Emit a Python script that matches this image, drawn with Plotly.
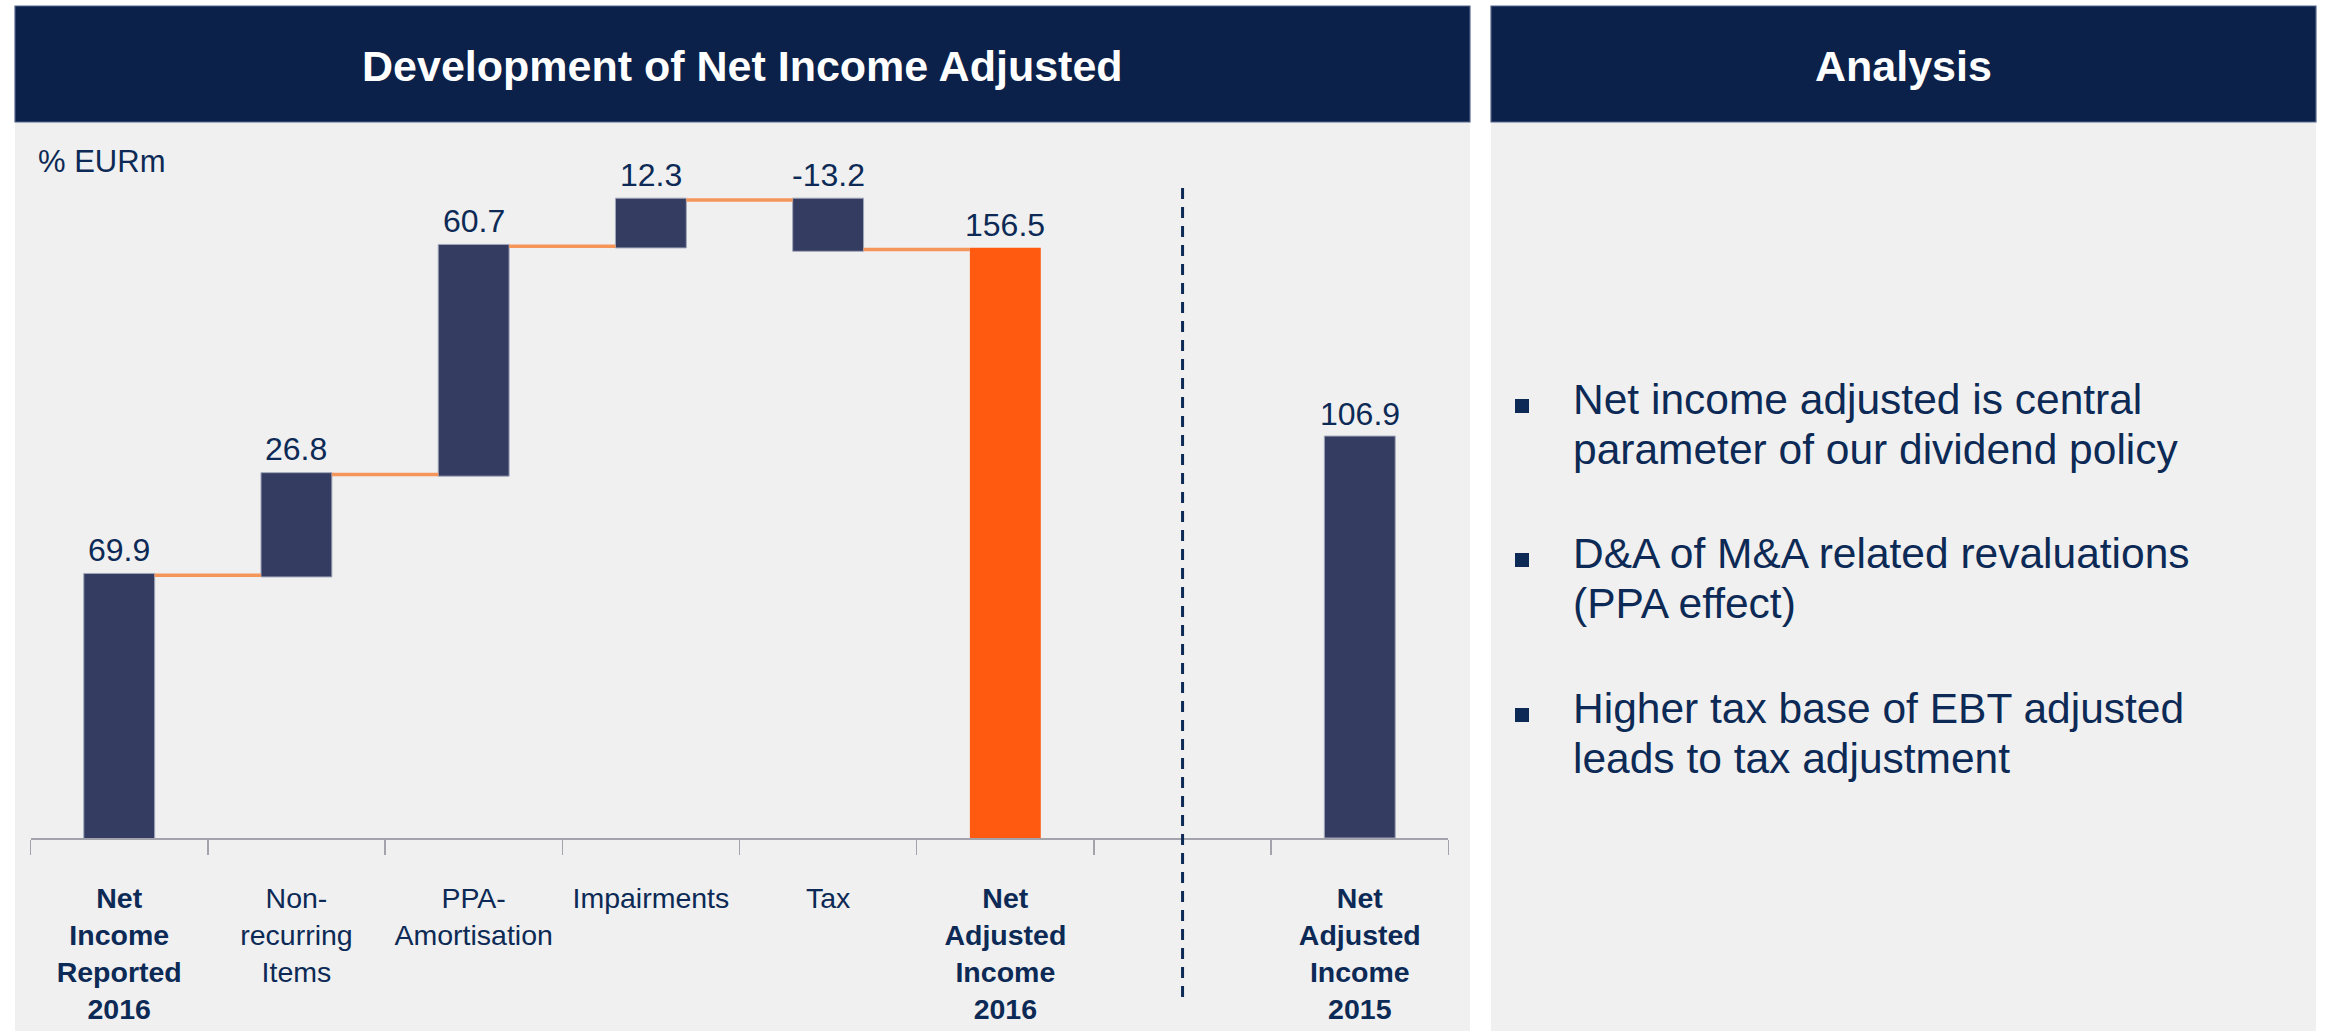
import numpy as np
import plotly.graph_objects as go

# ---------------- data ----------------
CATEGORIES = [
    "<b>Net</b><br><b>Income</b><br><b>Reported</b><br><b>2016</b>",
    "Non-<br>recurring<br>Items",
    "PPA-<br>Amortisation",
    "Impairments",
    "Tax",
    "<b>Net</b><br><b>Adjusted</b><br><b>Income</b><br><b>2016</b>",
    " ",
    "<b>Net</b><br><b>Adjusted</b><br><b>Income</b><br><b>2015</b>",
]
STEP_VALUES = [69.9, 26.8, 60.7, 12.3, -13.2]
TOTAL_2016 = 156.5
VALUE_2015 = 106.9
UNIT_LABEL = "% EURm"
LEFT_TITLE = "Development of Net Income Adjusted"
RIGHT_TITLE = "Analysis"
BULLETS = [
    ["Net income adjusted is central", "parameter of our dividend policy"],
    ["D&A of M&A related revaluations", "(PPA effect)"],
    ["Higher tax base of EBT adjusted", "leads to tax adjustment"],
]

# ---------------- style ----------------
W, H = 2326, 1035
FONT = "Arial, Liberation Sans, sans-serif"
HEADER = "#0b2149"
TEXT = "#0c2a55"
BAR = "#343c62"
BAR_EDGE = "#a2a7ba"
ORANGE = "#ff5a10"
CONNECTOR = "#f5955a"
PANEL = "#f0f0f0"
AXIS = "#a3a3ab"


def px(x):
    return x / W


def py(y):
    return 1 - y / H


fig = go.Figure()

wf_x = CATEGORIES[:6]
wf_y = STEP_VALUES + [TOTAL_2016]
fig.add_trace(go.Waterfall(
    x=wf_x, y=wf_y,
    measure=["relative"] * len(STEP_VALUES) + ["total"],
    base=0,
    width=0.4,
    increasing=dict(marker=dict(color=BAR, line=dict(color=BAR_EDGE, width=1))),
    decreasing=dict(marker=dict(color=BAR, line=dict(color=BAR_EDGE, width=1))),
    totals=dict(marker=dict(color=ORANGE, line=dict(color=ORANGE, width=0))),
    connector=dict(mode="between", line=dict(color=CONNECTOR, width=3.5)),
    textposition="none",
    hoverinfo="skip",
    showlegend=False,
))

fig.add_trace(go.Bar(
    x=[CATEGORIES[6], CATEGORIES[7]], y=[None, VALUE_2015],
    width=0.4,
    marker=dict(color=BAR, line=dict(color=BAR_EDGE, width=1)),
    hoverinfo="skip",
    showlegend=False,
))

# data labels
cum = np.cumsum(STEP_VALUES)
prev = np.concatenate([[0], cum[:-1]])
tops = list(np.maximum(prev, cum)) + [TOTAL_2016]
vals = STEP_VALUES + [TOTAL_2016]
annotations = []
for cat, top, v in zip(wf_x, tops, vals):
    annotations.append(dict(
        x=cat, y=top, xref="x", yref="y", text=f"{v:.1f}", showarrow=False,
        xanchor="center", yanchor="bottom", yshift=5,
        font=dict(size=32, color=TEXT, family=FONT)))
annotations.append(dict(
    x=CATEGORIES[7], y=VALUE_2015, xref="x", yref="y", text=f"{VALUE_2015:.1f}",
    showarrow=False, xanchor="center", yanchor="bottom", yshift=2,
    font=dict(size=32, color=TEXT, family=FONT)))

# headers / unit / bullets
annotations.append(dict(x=px(742), y=py(66), xref="paper", yref="paper",
                        text=f"<b>{LEFT_TITLE}</b>", showarrow=False,
                        xanchor="center", yanchor="middle",
                        font=dict(size=43, color="white", family=FONT)))
annotations.append(dict(x=px(1903.5), y=py(66), xref="paper", yref="paper",
                        text=f"<b>{RIGHT_TITLE}</b>", showarrow=False,
                        xanchor="center", yanchor="middle",
                        font=dict(size=43, color="white", family=FONT)))
annotations.append(dict(x=px(36), y=py(161), xref="paper", yref="paper",
                        text=UNIT_LABEL, showarrow=False, xanchor="left",
                        yanchor="middle",
                        font=dict(size=31, color=TEXT, family=FONT)))

shapes = [
    dict(type="rect", xref="paper", yref="paper", x0=px(15), x1=px(1470),
         y0=py(1031), y1=py(122), fillcolor=PANEL, line=dict(width=0), layer="below"),
    dict(type="rect", xref="paper", yref="paper", x0=px(1491), x1=px(2316),
         y0=py(1031), y1=py(122), fillcolor=PANEL, line=dict(width=0), layer="below"),
    dict(type="rect", xref="paper", yref="paper", x0=px(15), x1=px(1470),
         y0=py(122), y1=py(6), fillcolor=HEADER, line=dict(color="#55658a", width=1.2),
         layer="below"),
    dict(type="rect", xref="paper", yref="paper", x0=px(1491), x1=px(2316),
         y0=py(122), y1=py(6), fillcolor=HEADER, line=dict(color="#55658a", width=1.2),
         layer="below"),
    # separator between 2016 and 2015
    dict(type="line", xref="x", yref="paper", x0=6, x1=6, y0=py(188), y1=py(1002),
         line=dict(color=TEXT, width=3, dash="11px,8px")),
]

baselines = [(413, 463), (567, 617), (722, 772)]
for lines, bls in zip(BULLETS, baselines):
    shapes.append(dict(type="rect", xref="paper", yref="paper",
                       x0=px(1515), x1=px(1529), y0=py(bls[0]), y1=py(bls[0] - 14),
                       fillcolor=TEXT, line=dict(width=0)))
    for line, bl in zip(lines, bls):
        annotations.append(dict(x=px(1571), y=py(bl - 14), xref="paper", yref="paper",
                                text=line, showarrow=False, xanchor="left",
                                yanchor="middle",
                                font=dict(size=42.5, color=TEXT, family=FONT)))

Y_TOP = (838 - 130) / 3.76

fig.update_layout(
    width=W, height=H,
    margin=dict(l=0, r=0, t=0, b=0),
    paper_bgcolor="white",
    plot_bgcolor="rgba(0,0,0,0)",
    showlegend=False,
    font=dict(family=FONT, color=TEXT),
    xaxis=dict(
        domain=[px(30.6), px(1448.4)],
        type="category",
        categoryorder="array", categoryarray=CATEGORIES,
        range=[-0.5, len(CATEGORIES) - 0.5],
        showline=True, linecolor=AXIS, linewidth=2,
        ticks="outside", ticklen=15, tickwidth=1.5, tickcolor=AXIS,
        tickson="boundaries",
        showgrid=False, zeroline=False,
        tickfont=dict(size=28.5, color=TEXT, family=FONT),
        ticklabelstandoff=34,
        tickangle=0,
        fixedrange=True,
    ),
    yaxis=dict(
        domain=[py(838), py(130)],
        range=[0, Y_TOP],
        visible=False, showgrid=False, zeroline=False, fixedrange=True,
    ),
    shapes=shapes,
    annotations=annotations,
)

fig.write_html(
    "out.html",
    config={"displayModeBar": False, "staticPlot": True},
    post_script="document.body.style.margin='0px';document.body.style.overflow='hidden';",
)
